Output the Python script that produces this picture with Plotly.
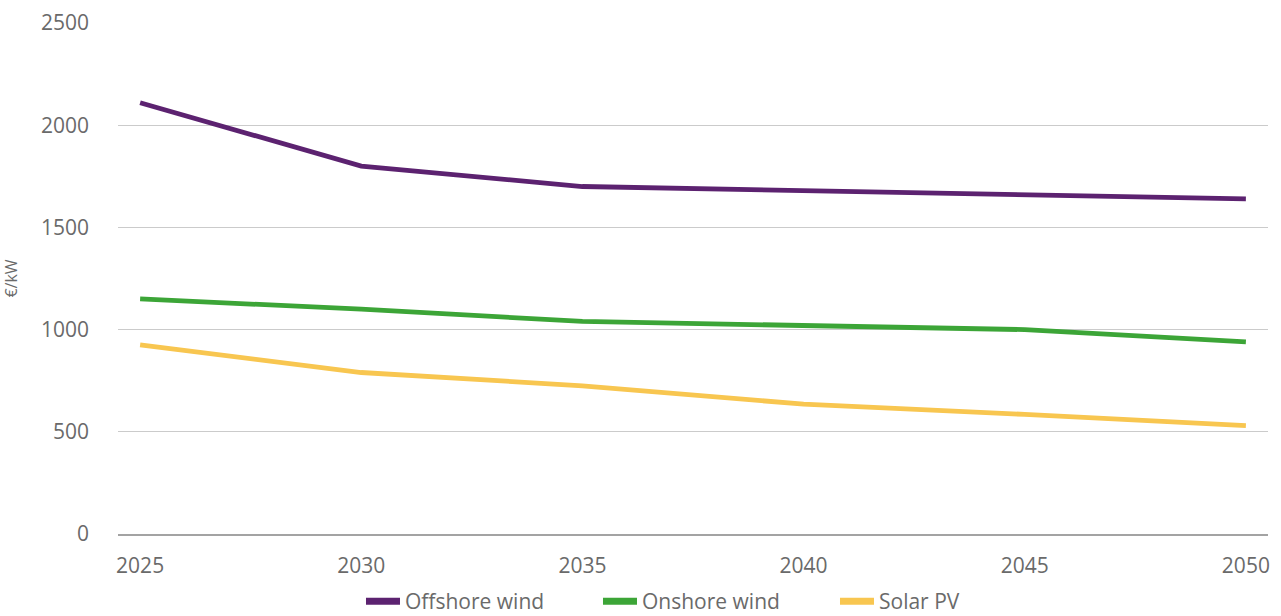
import plotly.graph_objects as go

# Capital cost outlook, €/kW
years = [2025, 2030, 2035, 2040, 2045, 2050]
offshore_wind = [2110, 1800, 1700, 1680, 1660, 1640]
onshore_wind = [1150, 1100, 1040, 1020, 1000, 940]
solar_pv = [925, 790, 725, 635, 585, 530]

series = [
    ("Offshore wind", offshore_wind, "#5c2270"),
    ("Onshore wind", onshore_wind, "#3ca537"),
    ("Solar PV", solar_pv, "#f8c650"),
]

FONT = "'Open Sans', sans-serif"
TEXT = "#6a6a6a"

fig = go.Figure()
for name, vals, color in series:
    fig.add_trace(go.Scatter(
        x=years, y=vals, mode="lines", name=name,
        line=dict(color=color, width=4.8),
        showlegend=False,
    ))
# thicker swatches for the legend
for name, vals, color in series:
    fig.add_trace(go.Scatter(
        x=[None], y=[None], mode="lines", name=name,
        line=dict(color=color, width=7),
    ))

fig.update_layout(
    width=1281, height=616,
    margin=dict(l=118, r=13, t=23, b=82, autoexpand=False),
    paper_bgcolor="white", plot_bgcolor="white",
    font=dict(family=FONT, color=TEXT, size=21),
    legend=dict(
        orientation="h", x=0.2113, xanchor="left", y=-0.092, yanchor="top",
        itemwidth=34, entrywidth=188, entrywidthmode="pixels",
        font=dict(size=21, color=TEXT), itemclick=False,
    ),
    xaxis=dict(
        range=[2024.5, 2050.5], tickvals=years, ticktext=[str(y) for y in years],
        showgrid=False, showline=True, linecolor="#a3a3a3", linewidth=1.5,
        ticks="", ticklabelstandoff=12, zeroline=False, automargin=False,
    ),
    yaxis=dict(
        range=[0, 2500], tickvals=[0, 500, 1000, 1500, 2000, 2500],
        showgrid=True, gridcolor="#cbcbcb", gridwidth=1,
        zeroline=False, ticks="", ticklabelstandoff=28, automargin=False,
        title=dict(text="€/kW", font=dict(size=16, color=TEXT), standoff=20),
    ),
)

fig.write_html("out.html")
